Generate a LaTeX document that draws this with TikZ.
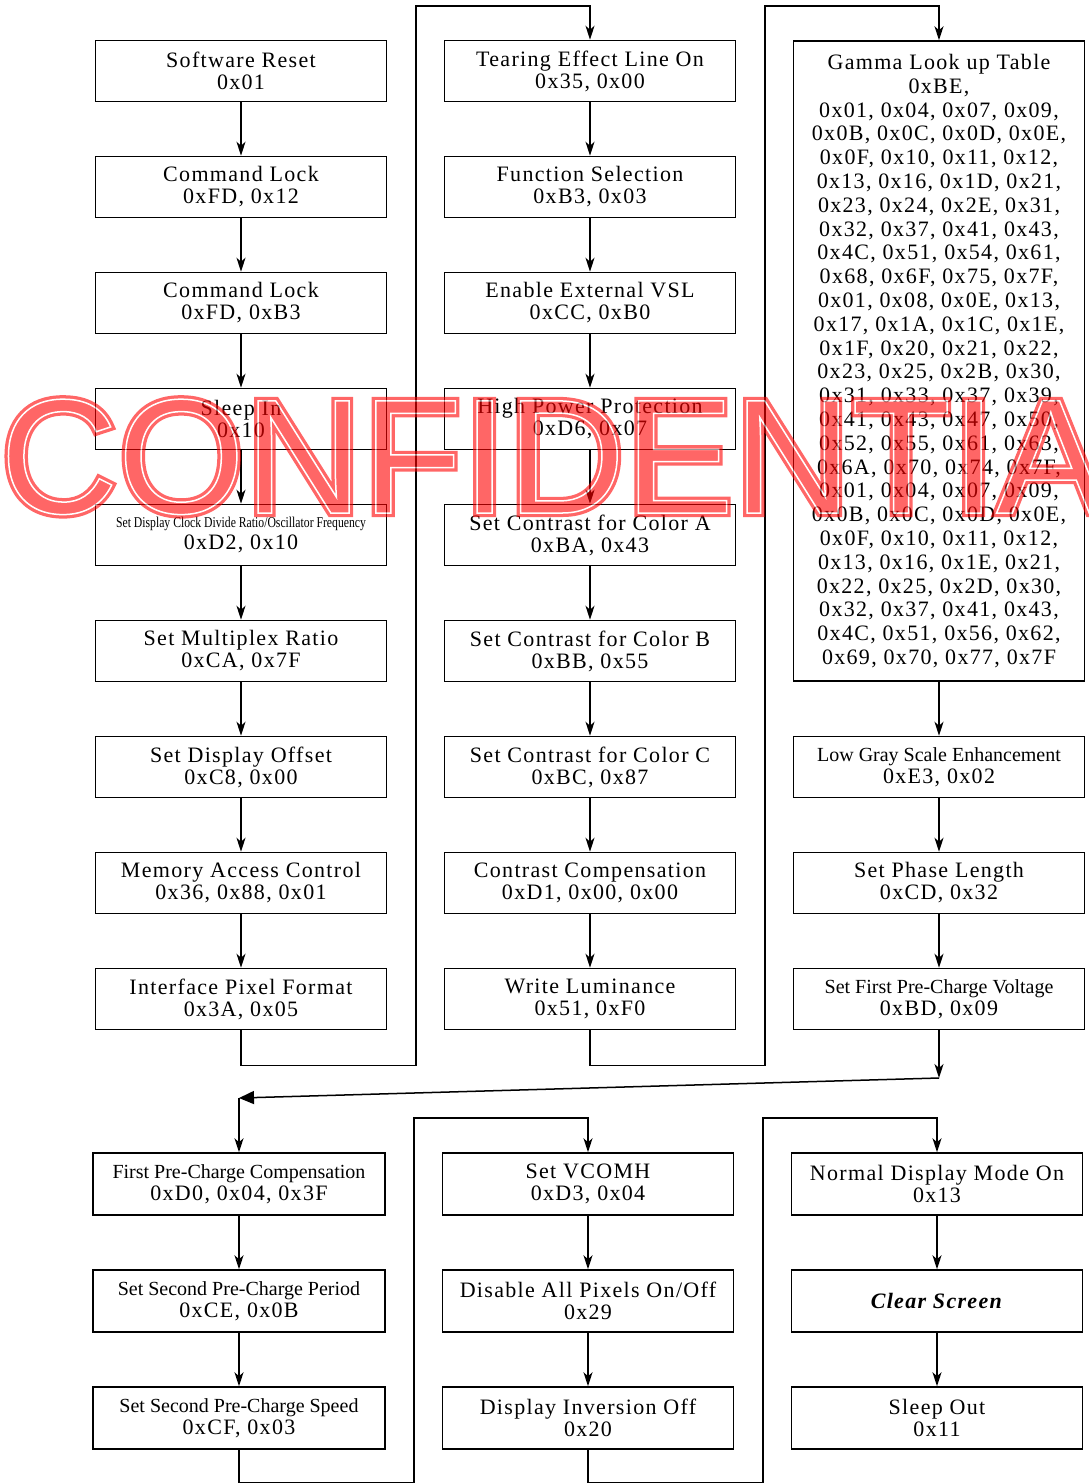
\documentclass[tikz,border=0pt]{standalone}
\usepackage{fontspec}
\setmainfont{Liberation Serif}
\newfontfamily\widefont[LetterSpace=6]{Liberation Serif}
\newfontfamily\markfont{Liberation Sans}
\usepackage{graphicx}
\usetikzlibrary{arrows.meta}

\newcommand{\thinlabel}[1]{{\normalfont\fontsize{20}{22}\selectfont #1}}
\newcommand{\squeezed}[1]{\scalebox{0.78}[1]{\normalfont\fontsize{15}{15}\selectfont #1}}

\begin{document}
\begin{tikzpicture}[x=1pt, y=-1pt,
	cmd/.style={draw, line width=1.5pt, minimum width=291pt, minimum height=61pt, inner sep=0pt, align=center, font=\widefont\fontsize{22}{22}\selectfont},
	flow/.style={line width=1.5pt, -{Stealth[length=14pt, width=9pt, inset=4pt]}},
	wire/.style={line width=1.5pt},
	wmark/.style={anchor=base west, inner sep=0pt, font=\markfont\fontsize{163}{163}\selectfont}]
	\useasboundingbox (0,0) rectangle (1088,1483);
	% First column:
	\node[cmd] (reset) at (241,71) {Software Reset\\0x01};
	\node[cmd] (lockA) at (241,187) {Command Lock\\0xFD, 0x12};
	\node[cmd] (lockB) at (241,303) {Command Lock\\0xFD, 0xB3};
	\node[cmd] (sleepin) at (241,419) {Sleep In\\0x10};
	\node[cmd] (clockdiv) at (241,535) {\squeezed{Set Display Clock Divide Ratio/Oscillator Frequency}\\0xD2, 0x10};
	\node[cmd] (muxratio) at (241,651) {Set Multiplex Ratio\\0xCA, 0x7F};
	\node[cmd] (dispoffset) at (241,767) {Set Display Offset\\0xC8, 0x00};
	\node[cmd] (memaccess) at (241,883) {Memory Access Control\\0x36, 0x88, 0x01};
	\node[cmd] (pixfmt) at (241,999) {Interface Pixel Format\\0x3A, 0x05};
	% Second column:
	\node[cmd] (tearing) at (590,71) {Tearing Effect Line On\\0x35, 0x00};
	\node[cmd] (funcsel) at (590,187) {Function Selection\\0xB3, 0x03};
	\node[cmd] (extvsl) at (590,303) {Enable External VSL\\0xCC, 0xB0};
	\node[cmd] (hipower) at (590,419) {High Power Protection\\0xD6, 0x07};
	\node[cmd] (contrastA) at (590,535) {Set Contrast for Color A\\0xBA, 0x43};
	\node[cmd] (contrastB) at (590,651) {Set Contrast for Color B\\0xBB, 0x55};
	\node[cmd] (contrastC) at (590,767) {Set Contrast for Color C\\0xBC, 0x87};
	\node[cmd] (contrastcomp) at (590,883) {Contrast Compensation\\0xD1, 0x00, 0x00};
	\node[cmd] (luminance) at (590,999) {Write Luminance\\0x51, 0xF0};
	% Third column:
	\node[cmd, minimum height=640pt, font=\widefont\fontsize{22}{23.8}\selectfont] (gamma) at (939,361) {Gamma Look up Table\\0xBE,\\
		0x01, 0x04, 0x07, 0x09,\\0x0B, 0x0C, 0x0D, 0x0E,\\0x0F, 0x10, 0x11, 0x12,\\0x13, 0x16, 0x1D, 0x21,\\
		0x23, 0x24, 0x2E, 0x31,\\0x32, 0x37, 0x41, 0x43,\\0x4C, 0x51, 0x54, 0x61,\\0x68, 0x6F, 0x75, 0x7F,\\
		0x01, 0x08, 0x0E, 0x13,\\0x17, 0x1A, 0x1C, 0x1E,\\0x1F, 0x20, 0x21, 0x22,\\0x23, 0x25, 0x2B, 0x30,\\
		0x31, 0x33, 0x37, 0x39,\\0x41, 0x43, 0x47, 0x50,\\0x52, 0x55, 0x61, 0x63,\\0x6A, 0x70, 0x74, 0x7F,\\
		0x01, 0x04, 0x07, 0x09,\\0x0B, 0x0C, 0x0D, 0x0E,\\0x0F, 0x10, 0x11, 0x12,\\0x13, 0x16, 0x1E, 0x21,\\
		0x22, 0x25, 0x2D, 0x30,\\0x32, 0x37, 0x41, 0x43,\\0x4C, 0x51, 0x56, 0x62,\\0x69, 0x70, 0x77, 0x7F};
	\node[cmd] (lowgray) at (939,767) {\thinlabel{Low Gray Scale Enhancement}\\0xE3, 0x02};
	\node[cmd] (phaselen) at (939,883) {Set Phase Length\\0xCD, 0x32};
	\node[cmd] (prechargeV) at (939,999) {\thinlabel{Set First Pre-Charge Voltage}\\0xBD, 0x09};
	% Lower part:
	\node[cmd, minimum width=292pt, minimum height=62pt] (prechargeComp) at (239,1184) {\thinlabel{First Pre-Charge Compensation}\\0xD0, 0x04, 0x3F};
	\node[cmd, minimum width=292pt, minimum height=62pt] (prechargePeriod) at (239,1301) {\thinlabel{Set Second Pre-Charge Period}\\0xCE, 0x0B};
	\node[cmd, minimum width=292pt, minimum height=62pt] (prechargeSpeed) at (239,1418) {\thinlabel{Set Second Pre-Charge Speed}\\0xCF, 0x03};
	\node[cmd, minimum height=62pt] (vcomh) at (588,1184) {Set VCOMH\\0xD3, 0x04};
	\node[cmd, minimum height=62pt] (allpixels) at (588,1301) {Disable All Pixels On/Off\\0x29};
	\node[cmd, minimum height=62pt] (inversion) at (588,1418) {Display Inversion Off\\0x20};
	\node[cmd, minimum height=62pt] (normalmode) at (937,1184) {Normal Display Mode On\\0x13};
	\node[cmd, minimum height=62pt] (clearscreen) at (937,1301) {\textbf{\textit{Clear Screen}}};
	\node[cmd, minimum height=62pt] (sleepout) at (937,1418) {Sleep Out\\0x11};
	\coordinate (bendR) at (939,1078);
	\coordinate (bendL) at (239,1098);
	% Arrows:
	\draw[flow] (reset) -- (lockA);
	\draw[flow] (lockA) -- (lockB);
	\draw[flow] (lockB) -- (sleepin);
	\draw[flow] (sleepin) -- (clockdiv);
	\draw[flow] (clockdiv) -- (muxratio);
	\draw[flow] (muxratio) -- (dispoffset);
	\draw[flow] (dispoffset) -- (memaccess);
	\draw[flow] (memaccess) -- (pixfmt);
	\draw[flow] (pixfmt.south) -- ++(0,35) -| (416,6) -| (tearing.north);
	\draw[flow] (tearing) -- (funcsel);
	\draw[flow] (funcsel) -- (extvsl);
	\draw[flow] (extvsl) -- (hipower);
	\draw[flow] (hipower) -- (contrastA);
	\draw[flow] (contrastA) -- (contrastB);
	\draw[flow] (contrastB) -- (contrastC);
	\draw[flow] (contrastC) -- (contrastcomp);
	\draw[flow] (contrastcomp) -- (luminance);
	\draw[flow] (luminance.south) -- ++(0,35) -| (765,6) -| (gamma.north);
	\draw[flow] (gamma) -- (lowgray);
	\draw[flow] (lowgray) -- (phaselen);
	\draw[flow] (phaselen) -- (prechargeV);
	\draw[flow] (prechargeV) -- (bendR);
	\draw[wire, -{Triangle[length=15pt, width=13pt]}] (bendR) -- (bendL);
	\draw[flow] (bendL) -- (prechargeComp);
	\draw[flow] (prechargeComp) -- (prechargePeriod);
	\draw[flow] (prechargePeriod) -- (prechargeSpeed);
	\draw[flow] (prechargeSpeed.south) |- (414,1483) -- (414,1118) -| (vcomh.north);
	\draw[flow] (vcomh) -- (allpixels);
	\draw[flow] (allpixels) -- (inversion);
	\draw[flow] (inversion.south) |- (763,1483) -- (763,1118) -| (normalmode.north);
	\draw[flow] (normalmode) -- (clearscreen);
	\draw[flow] (clearscreen) -- (sleepout);
	% Watermark:
	\begin{scope}[transparency group, opacity=0.6]
		\node[wmark, text=red] (mark) at (0,513) {\special{pdf:code 2 Tr 8 w}CONFIDENTIAL\special{pdf:code 0 Tr}};
		\node[wmark, text=white] (markline) at (0,513) {\special{pdf:code 1 Tr 1.5 w}CONFIDENTIAL\special{pdf:code 0 Tr}};
	\end{scope}
\end{tikzpicture}
\end{document}
